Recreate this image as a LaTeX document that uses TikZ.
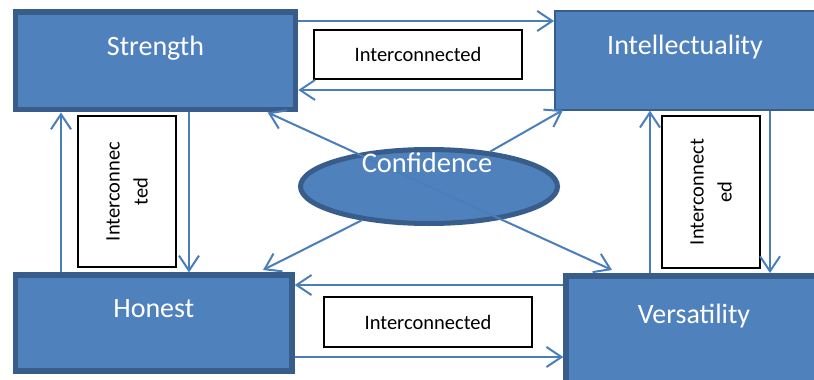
\documentclass[tikz,border=0pt]{standalone}
\usepackage{fontspec}
\setmainfont{Carlito}
\usetikzlibrary{arrows.meta,shapes.geometric,calc}
\definecolor{boxfill}{HTML}{4F81BD}
\definecolor{boxline}{HTML}{385D8A}
\definecolor{arrline}{HTML}{4A7EBB}
\begin{document}
\begin{tikzpicture}[x=1pt,y=-1pt,
  mainbox/.style={rectangle, draw=boxline, fill=boxfill, inner sep=0pt, text=white,
    font=\fontsize{28}{34}\selectfont},
  ibox/.style={rectangle, draw=black, line width=1.6pt, fill=white, inner sep=0pt,
    font=\fontsize{20.5}{28}\selectfont, align=center},
  arr/.style={draw=arrline, line width=2pt, -{Straight Barb[length=15pt,width=20pt]}},
  conftext/.style={text=white, inner sep=0pt, font=\fontsize{28.5}{34}\selectfont}]
\useasboundingbox (0,0) rectangle (814,380);
\fill[white] (0,0) rectangle (814,380);
\clip (0,0) rectangle (814,380);

% main boxes
\node[mainbox, line width=5.5pt, minimum width=280pt, text height=43pt, text depth=54.7pt]
  (strength) at (155.5,60.85) {Strength};
\node[mainbox, line width=2pt, minimum width=260pt, text height=43.8pt, text depth=55.4pt]
  (intel) at (685,60.1) {Intellectuality};
\node[mainbox, line width=5.5pt, minimum width=276.5pt, text height=41.8pt, text depth=53.8pt]
  (honest) at (153.75,323) {Honest};
\node[mainbox, line width=5.5pt, minimum width=256pt, text height=47.2pt, text depth=61.9pt]
  (vers) at (694,330.4) {Versatility};

% ellipse
\node[ellipse, draw=boxline, fill=boxfill, line width=5pt, inner sep=0pt,
  minimum width=257pt, minimum height=74pt] (conf) at (429,186.5) {};

% label boxes
\node[ibox, minimum width=208pt, minimum height=49pt] (itop) at (418,54.5) {Interconnected};
\node[ibox, minimum width=208pt, minimum height=50pt] (ibottom) at (428,322) {Interconnected};
\node[ibox, rotate=90, minimum width=151pt, minimum height=98pt] (ileft) at (127,191.5) {Interconnec\\ted};
\node[ibox, rotate=90, minimum width=152pt, minimum height=98pt] (iright) at (711,192) {Interconnect\\ed};

% horizontal connectors
\draw[arr] (strength.east |- 0,21) -- (intel.west |- 0,21);
\draw[arr] (intel.west |- 0,90) -- (strength.east |- 0,90);
\draw[arr] (vers.west |- 0,285) -- (honest.east |- 0,285);
\draw[arr] (honest.east |- 0,357) -- (vers.west |- 0,357);

% vertical connectors
\draw[arr] (honest.north -| 61,0) -- (strength.south -| 61,0);
\draw[arr] (strength.south -| 189,0) -- (honest.north -| 189,0);
\draw[arr] (vers.north -| 650,0) -- (intel.south -| 650,0);
\draw[arr] (intel.south -| 770,0) -- (vers.north -| 770,0);

% diagonal connectors
\coordinate (vtip) at (612,270);
\coordinate (itip) at (563,110);
\coordinate (htip) at (263,270);
\draw[arr] (conf.center) -- (strength);
\draw[arr] (conf.center) -- (vtip);
\draw[arr] (conf) -- (itip);
\draw[arr] (conf) -- (htip);

\node[conftext, anchor=base] (conflabel) at (427,172) {Confidence};
\end{tikzpicture}
\end{document}
